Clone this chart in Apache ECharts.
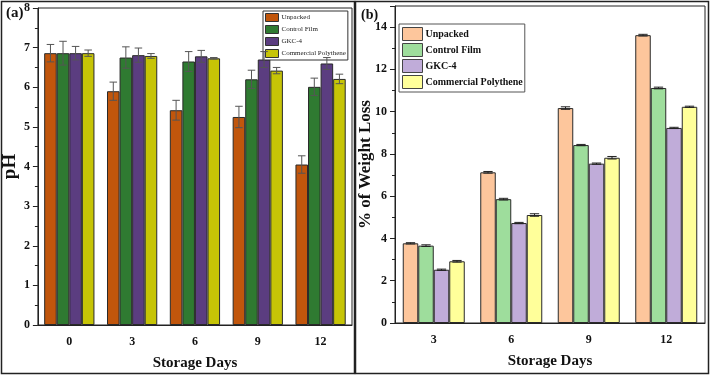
<!DOCTYPE html>
<html>
<head>
<meta charset="utf-8">
<script src="https://cdn.jsdelivr.net/npm/echarts@6/dist/echarts.min.js"></script>
<style>
  html, body { margin: 0; padding: 0; background: #fff; }
  #chart { width: 712px; height: 377px; }
</style>
</head>
<body>
<div id="chart"></div>
<script>
// ---- data ----
var names = ['Unpacked', 'Control Film', 'GKC-4', 'Commercial Polythene'];

// (a) pH
var phDays = ['0', '3', '6', '9', '12'];
var phUnpacked = [6.86, 5.90, 5.42, 5.25, 4.05];
var phControl = [6.86, 6.75, 6.65, 6.20, 6.01];
var phGkc = [6.86, 6.81, 6.78, 6.70, 6.60];
var phCommercial = [6.86, 6.79, 6.73, 6.42, 6.21];
var phUnpackedErr = [0.22, 0.23, 0.25, 0.27, 0.22];
var phControlErr = [0.30, 0.27, 0.25, 0.23, 0.22];
var phGkcErr = [0.17, 0.18, 0.15, 0.20, 0.15];
var phCommercialErr = [0.08, 0.06, 0.02, 0.08, 0.12];

// (b) weight loss
var wlDays = ['3', '6', '9', '12'];
var wlUnpacked = [3.77, 7.13, 10.17, 13.62];
var wlControl = [3.66, 5.86, 8.42, 11.12];
var wlGkc = [2.52, 4.73, 7.54, 9.23];
var wlCommercial = [2.92, 5.11, 7.82, 10.23];
var wlUnpackedErr = [0.03, 0.04, 0.06, 0.04];
var wlControlErr = [0.04, 0.04, 0.03, 0.04];
var wlGkcErr = [0.03, 0.03, 0.03, 0.03];
var wlCommercialErr = [0.04, 0.06, 0.06, 0.03];

var colorsA = ['#c1560c', '#2f7a31', '#5b3d80', '#c6c406'];
var colorsB = ['#fdc69c', '#9edd9c', '#c0acd9', '#ffff9a'];

var serif = '"Liberation Serif", "DejaVu Serif", serif';
var CAT_GAP = 0.2;

var chart = echarts.init(document.getElementById('chart'));

// 误差线
function errRender(idx, n, color) {
  return function (params, api) {
    var cat = api.value(0), v = api.value(1), e = api.value(2);
    var c = api.coord([cat, v]);
    var band = api.size([1, 0])[0];
    var grp = band * (1 - CAT_GAP);
    var bw = grp / n;
    var x = c[0] - grp / 2 + bw * (idx + 0.5);
    var top = api.coord([cat, v + e])[1];
    var bot = api.coord([cat, v - e])[1];
    var cap = bw * 0.3;
    var st = { stroke: color, lineWidth: 1 };
    return {
      type: 'group',
      children: [
        { type: 'line', shape: { x1: x, y1: top, x2: x, y2: bot }, style: st },
        { type: 'line', shape: { x1: x - cap, y1: top, x2: x + cap, y2: top }, style: st },
        { type: 'line', shape: { x1: x - cap, y1: bot, x2: x + cap, y2: bot }, style: st }
      ]
    };
  };
}

function barSeries(name, data, color, gi) {
  return {
    name: name, type: 'bar', xAxisIndex: gi * 2, yAxisIndex: gi,
    data: data, barGap: 0, barCategoryGap: (CAT_GAP * 100) + '%',
    itemStyle: { color: color, borderColor: '#2a2a2a', borderWidth: 1 }
  };
}

function errSeries(vals, errs, idx, gi, color) {
  return {
    type: 'custom', xAxisIndex: gi * 2, yAxisIndex: gi, z: 5, silent: true,
    renderItem: errRender(idx, 4, color),
    encode: { x: 0, y: 1 },
    data: vals.map(function (v, i) { return [i, v, errs[i]]; })
  };
}

var tickLabel = { fontFamily: serif, fontWeight: 'bold', fontSize: 12, color: '#111' };
var axLine = { show: true, lineStyle: { color: '#222', width: 1 } };

function xAxes(days, gi) {
  return [
    { type: 'category', gridIndex: gi, data: days, position: 'bottom',
      axisLine: axLine, axisTick: { alignWithLabel: true, length: 5, lineStyle: { color: '#222' } },
      axisLabel: Object.assign({ margin: 11 }, tickLabel),
      name: 'Storage Days', nameLocation: 'middle', nameGap: 31,
      nameTextStyle: { fontFamily: serif, fontWeight: 'bold', fontSize: 15, color: '#111' } },
    { type: 'category', gridIndex: gi, data: days, position: 'bottom',
      axisLine: { show: false }, axisTick: { length: 4, lineStyle: { color: '#222' } },
      axisLabel: { show: false } }
  ];
}

var seriesA = [
  [phUnpacked, phUnpackedErr], [phControl, phControlErr], [phGkc, phGkcErr], [phCommercial, phCommercialErr]
];
var seriesB = [
  [wlUnpacked, wlUnpackedErr], [wlControl, wlControlErr], [wlGkc, wlGkcErr], [wlCommercial, wlCommercialErr]
];

var series = [];
seriesA.forEach(function (s, i) { series.push(barSeries(names[i], s[0], colorsA[i], 0)); });
seriesA.forEach(function (s, i) { series.push(errSeries(s[0], s[1], i, 0, '#555')); });
seriesB.forEach(function (s, i) { series.push(barSeries(names[i], s[0], colorsB[i], 1)); });
seriesB.forEach(function (s, i) { series.push(errSeries(s[0], s[1], i, 1, '#222')); });

var option = {
  animation: false,
  backgroundColor: '#fff',
  grid: [
    { left: 33, right: 360, top: 8, bottom: 52, show: true, borderColor: '#222', borderWidth: 1 },
    { left: 395, right: 7, top: 6, bottom: 54, show: true, borderColor: '#222', borderWidth: 1 }
  ],
  xAxis: xAxes(phDays, 0).concat(xAxes(wlDays, 1)),
  yAxis: [
    { type: 'value', gridIndex: 0, min: 0, max: 8, interval: 1,
      axisLine: axLine, axisTick: { show: true, length: 5, lineStyle: { color: '#222' } },
      minorTick: { show: true, splitNumber: 2, length: 3, lineStyle: { color: '#222' } },
      splitLine: { show: false },
      axisLabel: Object.assign({ margin: 8 }, tickLabel),
      name: 'pH', nameLocation: 'middle', nameGap: 13,
      nameTextStyle: { fontFamily: serif, fontWeight: 'bold', fontSize: 19, color: '#111' } },
    { type: 'value', gridIndex: 1, min: 0, max: 15, interval: 2,
      axisLine: axLine, axisTick: { show: true, length: 5, lineStyle: { color: '#222' } },
      minorTick: { show: true, splitNumber: 2, length: 3, lineStyle: { color: '#222' } },
      splitLine: { show: false },
      axisLabel: Object.assign({ margin: 8, showMaxLabel: false }, tickLabel),
      name: '% of Weight Loss', nameLocation: 'middle', nameGap: 21, nameMoveOverlap: false,
      nameTextStyle: { fontFamily: serif, fontWeight: 'bold', fontSize: 17, color: '#111' } }
  ],
  legend: [
    { orient: 'vertical', left: 263, top: 11, padding: [2, 2, 2, 2], itemGap: 3,
      itemWidth: 13, itemHeight: 8, icon: 'rect', borderColor: '#333', borderWidth: 1,
      backgroundColor: '#fff', selectedMode: false,
      textStyle: { fontFamily: serif, fontSize: 7, color: '#222', padding: [0, 0, 0, -2] },
      data: names.map(function (n, i) { return { name: n, itemStyle: { color: colorsA[i], borderColor: '#333', borderWidth: 1 } }; }) },
    { orient: 'vertical', left: 399, top: 24, padding: [3, 2, 3, 3], itemGap: 2,
      itemWidth: 20, itemHeight: 13, icon: 'rect', borderColor: '#555', borderWidth: 1,
      backgroundColor: '#fff', selectedMode: false,
      textStyle: { fontFamily: serif, fontWeight: 'bold', fontSize: 10, color: '#111', padding: [0, 0, 0, -2] },
      data: names.map(function (n, i) { return { name: n, itemStyle: { color: colorsB[i], borderColor: '#444', borderWidth: 1 } }; }) }
  ],
  graphic: [
    { type: 'rect', shape: { x: 1.5, y: 1.5, width: 353, height: 372 }, style: { fill: 'none', stroke: '#222', lineWidth: 1.5 }, silent: true },
    { type: 'rect', shape: { x: 355.5, y: 1.5, width: 353, height: 372 }, style: { fill: 'none', stroke: '#222', lineWidth: 1.5 }, silent: true },
    { type: 'text', left: 6, top: 6, style: { text: '(a)', font: 'bold 15px ' + serif, fill: '#111' } },
    { type: 'text', left: 361, top: 8, style: { text: '(b)', font: 'bold 14px ' + serif, fill: '#111' } }
  ],
  series: series
};

chart.setOption(option);
</script>
</body>
</html>
